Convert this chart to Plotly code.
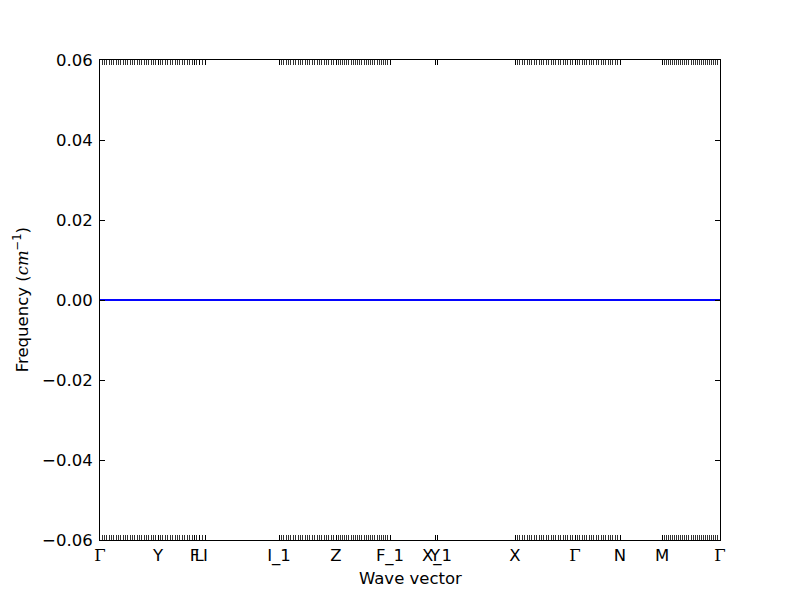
import numpy as np
import plotly.graph_objects as go

# High-symmetry labels and their positions along the path (arbitrary distance units)
labels = ["Γ", "Y", "F", "L", "I", "I_1", "Z", "F_1", "Y", "X_1", "X", "Γ", "N", "M", "Γ"]
label_pos = [0.0, 0.58, 0.945, 0.99, 1.055, 1.79, 2.36, 2.90, 3.35, 3.37, 4.15, 4.75, 5.20, 5.62, 6.20]

# Path segments: (start label index, end label index, number of q-points)
seg_start = [0, 1, 2, 3, 5, 6, 8, 10, 11, 13]
seg_end = [1, 2, 3, 4, 6, 7, 9, 11, 12, 14]
seg_npts = [26, 16, 3, 3, 25, 26, 2, 26, 20, 29]

# Frequencies (cm^-1) on each segment: every band is flat at zero
band_level = [0.0, 0.0, 0.0]

y_ticks = [-0.06, -0.04, -0.02, 0.0, 0.02, 0.04, 0.06]

qx = []
for s, e, n in zip(seg_start, seg_end, seg_npts):
    qx.extend(np.linspace(label_pos[s], label_pos[e], n).tolist())

fig = go.Figure()
for lvl in band_level:
    fig.add_trace(go.Scatter(x=qx, y=[lvl] * len(qx), mode="lines",
                             line=dict(color="#0000ff", width=1.5),
                             showlegend=False, hoverinfo="skip"))

def fmt(lab):
    if lab == "Γ":
        return '<span style="font-family:DejaVu Serif">Γ</span>'
    return lab

FS = 16.5
fig.update_layout(
    width=800, height=600,
    margin=dict(l=100, r=80, t=60, b=60, autoexpand=False),
    paper_bgcolor="white", plot_bgcolor="white",
    font=dict(family="DejaVu Sans", size=FS, color="black"),
    showlegend=False,
)
fig.update_xaxes(
    automargin=False,
    range=[label_pos[0], label_pos[-1]],
    tickmode="array", tickvals=label_pos, ticktext=[fmt(l) for l in labels],
    tickangle=0, tickfont=dict(size=FS),
    ticks="inside", ticklen=5, tickwidth=0.8, tickcolor="black",
    minor=dict(tickmode="array", tickvals=qx, ticks="inside", ticklen=5,
               tickwidth=0.8, tickcolor="#333333", showgrid=False),
    showline=True, linecolor="black", linewidth=1, mirror="ticks",
    showgrid=False, zeroline=False,
)
fig.update_yaxes(
    automargin=False,
    range=[-0.06, 0.06],
    tickmode="array", tickvals=y_ticks, tickfont=dict(size=FS),
    ticktext=[("−" if v < 0 else "") + f"{abs(v):.2f}" for v in y_ticks],
    ticks="inside", ticklen=5, tickwidth=0.8, tickcolor="black",
    ticklabelstandoff=3,
    showline=True, linecolor="black", linewidth=1, mirror="ticks",
    showgrid=False, zeroline=False,
)
fig.add_annotation(text="Wave vector", xref="paper", yref="paper",
                   x=0.5, y=-0.0792, yanchor="middle", xanchor="center",
                   showarrow=False, font=dict(size=FS))
fig.add_annotation(text='Frequency (<span style="font-family:DejaVu Serif"><i>cm</i></span><sup>−1</sup>)',
                   xref="paper", yref="paper", x=-0.127, y=0.5,
                   xanchor="center", yanchor="middle", textangle=-90,
                   showarrow=False, font=dict(size=FS))

fig.write_html("out.html", config={"displayModeBar": False},
               post_script="document.body.style.margin='0';document.body.style.padding='0';")
